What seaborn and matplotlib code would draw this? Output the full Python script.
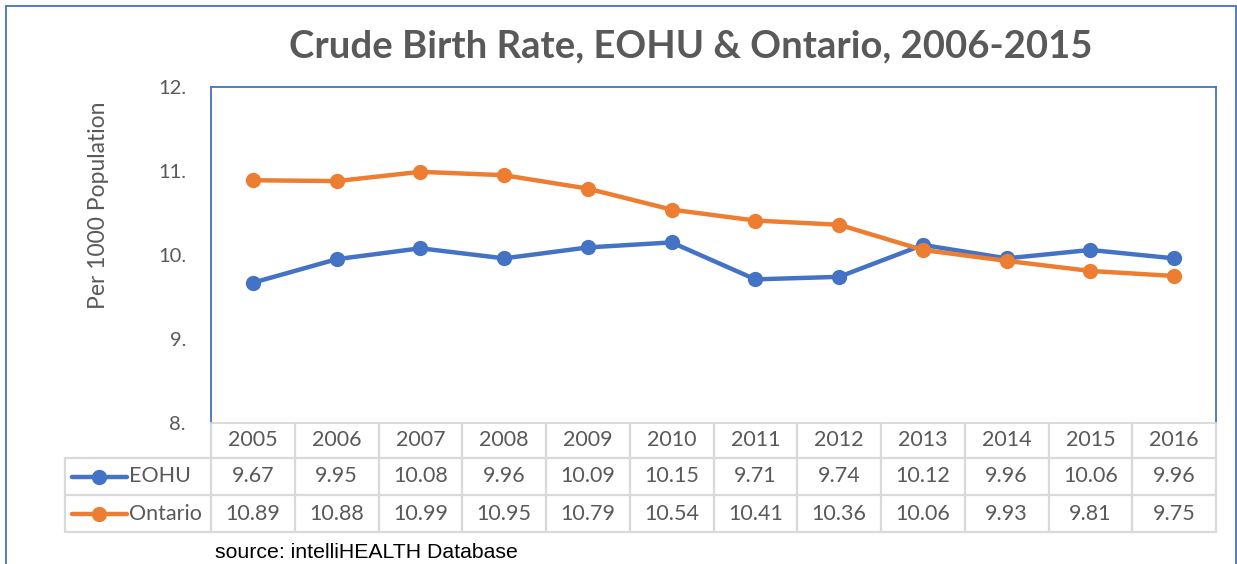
import matplotlib
matplotlib.use("Agg")
import matplotlib.pyplot as plt
import matplotlib.lines as mlines
from matplotlib.patches import Rectangle
import seaborn as sns
import pandas as pd

years = [2005, 2006, 2007, 2008, 2009, 2010, 2011, 2012, 2013, 2014, 2015, 2016]
eohu = [9.67, 9.95, 10.08, 9.96, 10.09, 10.15, 9.71, 9.74, 10.12, 9.96, 10.06, 9.96]
ontario = [10.89, 10.88, 10.99, 10.95, 10.79, 10.54, 10.41, 10.36, 10.06, 9.93, 9.81, 9.75]
series_names = ["EOHU", "Ontario"]
series_colors = ["#4472C4", "#ED7D31"]
y_ticks = [8, 9, 10, 11, 12]
y_tick_labels = ["8.", "9.", "10.", "11.", "12."]

sns.set_theme(style="white")
plt.rcParams['font.family'] = ['Lato', 'DejaVu Sans']
GREY = "#595959"
GRID = "#d9d9d9"

df = pd.DataFrame({
    "pos": list(range(len(years))) * 2,
    "value": eohu + ontario,
    "series": [series_names[0]] * len(years) + [series_names[1]] * len(years),
})

W, H = 1237, 564
fig = plt.figure(figsize=(W / 100, H / 100), dpi=100)
ax = fig.add_axes([211 / W, 1 - 423 / H, (1216 - 211) / W, (423 - 87) / H])

sns.lineplot(data=df, x="pos", y="value", hue="series", palette=series_colors,
             marker="o", markersize=11, markeredgewidth=0, linewidth=3.2,
             legend=False, ax=ax)

ax.set_xlim(-0.5, len(years) - 0.5)
ax.set_ylim(8, 12)
ax.set_xticks([])
ax.set_xlabel("")
ax.set_yticks(y_ticks)
ax.set_yticklabels(y_tick_labels, fontsize=14.5, color=GREY)
ax.tick_params(axis="y", length=0, pad=18)
ax.set_ylabel("Per 1000 Population", fontsize=16.5, color=GREY)
ax.yaxis.set_label_coords(-0.101, 0.649)
for name, sp in ax.spines.items():
    sp.set_color("#4472C4")
    sp.set_linewidth(1.3)
ax.spines["bottom"].set_color(GRID)

fig.text(691 / W, 1 - 46 / H, "Crude Birth Rate, EOHU & Ontario, 2006-2015",
         ha="center", va="center", fontsize=27.5, fontweight="bold", color=GREY)

# data table under the axes
px = (1216 - 211) / len(years)           # pixels per category
ax_h = 423 - 87
left_x = -0.5 - (211 - 65) / px
rows = [0, -35 / ax_h, -72 / ax_h, -109 / ax_h]
tr = ax.get_xaxis_transform()
lkw = dict(color=GRID, lw=1.6, transform=tr, clip_on=False)

for y in rows[1:]:
    ax.plot([left_x, len(years) - 0.5], [y, y], **lkw)
for i in range(len(years) + 1):
    ax.plot([i - 0.5, i - 0.5], [rows[0], rows[3]], **lkw)
ax.plot([left_x, left_x], [rows[1], rows[3]], **lkw)

tkw = dict(ha="center", va="center", fontsize=15.5, color=GREY, transform=tr, clip_on=False)
for i, yr in enumerate(years):
    ax.text(i, (rows[0] + rows[1]) / 2, str(yr), **tkw)
for r, vals in enumerate([eohu, ontario]):
    yc = (rows[r + 1] + rows[r + 2]) / 2
    for i, v in enumerate(vals):
        ax.text(i, yc, f"{v:.2f}", **tkw)
    x0 = left_x + 7 / px
    x1 = left_x + 62 / px
    ax.add_line(mlines.Line2D([x0, x1], [yc, yc], color=series_colors[r], lw=3.2,
                              transform=tr, clip_on=False))
    ax.add_line(mlines.Line2D([(x0 + x1) / 2], [yc], color=series_colors[r], marker="o",
                              markersize=11, markeredgewidth=0, transform=tr, clip_on=False))
    ax.text(left_x + 64 / px, yc, series_names[r], ha="left", va="center",
            fontsize=15.5, color=GREY, transform=tr, clip_on=False)

fig.text(215 / W, 1 - 552 / H, "source: intelliHEALTH Database", ha="left", va="center",
         fontsize=15.3, color="black", family=["Liberation Sans", "DejaVu Sans"])

# outer chart frame
fig.patches.append(Rectangle((6 / W, -0.1), (1236 - 6) / W, 1.1 - 6 / H, fill=False,
                             edgecolor="#4472C4", lw=1.3, transform=fig.transFigure))

fig.savefig("out.png", dpi=100)
